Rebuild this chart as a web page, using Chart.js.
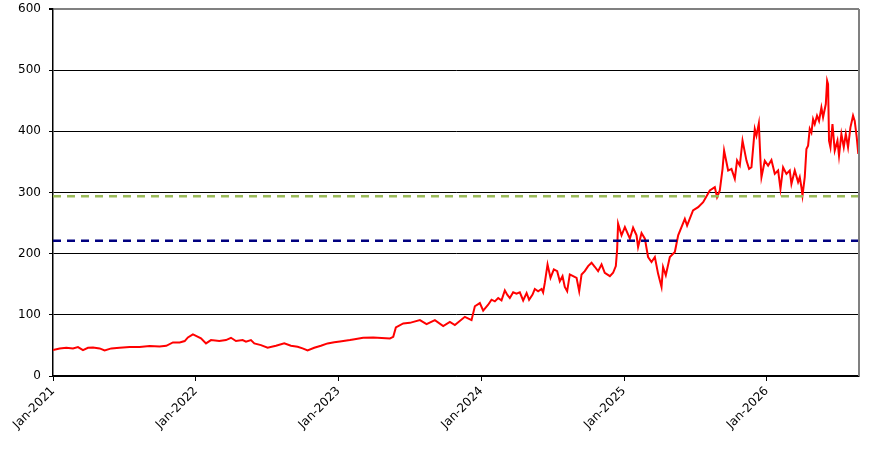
<!DOCTYPE html>
<html>
<head>
<meta charset="utf-8">
<title>Price chart</title>
<script src="https://cdn.jsdelivr.net/npm/chart.js@4.4.1/dist/chart.umd.min.js"></script>
<style>
    html, body { margin: 0; padding: 0; background: #ffffff; }
    #wrap { width: 883px; height: 449px; position: relative; }
</style>
</head>
<body>
<div id="wrap"><canvas id="priceChart"></canvas></div>
<script>
// months counted from Jan-2021 (0 = Jan-2021, 12 = Jan-2022, ...)
const months = [
    0, 0.56, 1.12, 1.68, 2.1, 2.52, 2.94, 3.36, 3.92, 4.34, 4.9, 5.6, 6.44, 7.28, 8.12, 8.96,
    9.52, 10.08, 10.65, 11.07, 11.34, 11.76,
    12.02, 12.44, 12.86, 13.28, 13.98, 14.54, 14.96, 15.38, 15.94, 16.22, 16.64, 16.92, 17.48,
    18.04, 18.74, 19.44, 20.0, 20.56, 20.98, 21.4, 21.96, 22.52, 23.08, 23.64, 24.12,
    24.96, 25.23, 26.07, 26.92, 28.32, 28.6, 28.82, 29.44, 30.0, 30.84, 31.4, 32.1, 32.8,
    33.36, 33.78, 34.62, 35.18, 35.46,
    35.88, 36.16, 36.58, 36.86, 37.14, 37.42, 37.7, 37.98, 38.18, 38.4,
    38.68, 38.96, 39.24, 39.52, 39.81, 40.02, 40.31, 40.5, 40.78, 41.07,
    41.2, 41.34, 41.57, 41.82, 42.1, 42.38, 42.6, 42.83, 43.02, 43.22,
    43.44, 43.72, 44.01, 44.23, 44.43, 44.7, 44.98, 45.27, 45.54, 45.82,
    46.11, 46.38, 46.81, 47.08, 47.31, 47.42,
    47.5,
    47.79, 48.07, 48.49, 48.76, 49.05, 49.18, 49.47, 49.75, 50.02, 50.31, 50.59, 50.86, 51.15,
    51.28, 51.51, 51.85, 52.27, 52.55, 53.11, 53.3, 53.8, 54.23, 54.65, 55.21, 55.63, 55.82,
    56.05, 56.28, 56.41, 56.75, 57.03, 57.31, 57.5, 57.73, 57.96, 58.29, 58.51, 58.71, 58.99,
    59.13, 59.33, 59.47, 59.55, 59.83, 60.11, 60.39, 60.67, 60.95, 61.15, 61.37, 61.65, 61.93,
    62.07, 62.35, 62.63, 62.77, 62.91, 63.0, 63.19, 63.33, 63.47, 63.61, 63.75, 63.89, 64.03,
    64.22, 64.39, 64.59, 64.73, 64.96, 65.07, 65.15, 65.23, 65.35, 65.52, 65.71, 65.94, 66.07,
    66.27, 66.47, 66.64, 66.83, 67.03, 67.25, 67.39, 67.56, 67.69
];

const prices = [
    42.4, 45.1, 46.2, 45.1, 47.3, 42.4, 46.2, 46.7, 45.1, 41.8, 45.1, 46.2, 47.3, 47.3, 48.9, 48.4,
    49.4, 54.9, 54.9, 57.1, 63.1, 68,
    65.7, 61.5, 53.3, 58.7, 57.1, 58.7, 62.5, 57.1, 58.7, 56, 58.7, 53.3, 50.5,
    46.2, 49.4, 53.3, 49.4, 47.8, 45.1, 41.8, 46.2, 49.4, 53.3, 55, 56.5,
    58.7, 59.8, 62.5, 63, 61.5, 64, 79.4, 85.9, 86.9, 91.3, 84.8, 91.3, 81.5,
    88.5, 83.2, 96.7, 91.3, 114,
    119.2, 107, 116.5, 124.7, 122, 127.5, 123.6, 140, 133, 127.5,
    136.8, 134.6, 136.8, 123.6, 135.7, 124.7, 133, 142.3, 138.5, 142.3,
    136.8, 152.2, 182.4, 160.4, 174.2, 171.4, 155, 163.2, 145.6, 138.5,
    166, 163.2, 160.4, 138.5, 166, 171.4, 179.7, 185.2, 178.6, 171.4,
    182.4, 168.7, 163.2, 168.7, 179.7, 207,
    249,
    230, 243.4, 224.5, 242.4, 230, 210.8, 233.7, 224.5, 194.5, 186.4, 194.5, 167.4, 145.6,
    178.2, 164.7, 194.5, 202.7, 230, 257, 246, 270.7, 276, 284.2, 303.3, 308.7, 292.4,
    303.3, 338.7, 368.5, 335.9, 338.7, 322.4, 352.2, 344, 384.8, 352.2, 338.7, 341.3, 403.9,
    393, 413, 352, 325, 352, 344, 353, 330.5, 336, 306, 341, 330.5, 336,
    314, 336, 317, 325, 308.6, 295, 325, 371, 376.6, 404, 398, 420, 412,
    425.6, 417, 439, 423, 444.6, 482.6, 477, 384.8, 374, 412, 368.5, 384.8, 360,
    395.7, 374, 395.7, 374, 406.5, 425.6, 417, 390, 363
];

// horizontal reference levels
const upperLevel = 294;
const lowerLevel = 221;

const xMax = 67.75;
const yTicks = [0, 100, 200, 300, 400, 500, 600];

Chart.defaults.font.family = "'DejaVu Sans', sans-serif";
Chart.defaults.font.size = 12;
Chart.defaults.color = '#000000';

// thin grey frame on the right side of the plot
const frameRight = {
    id: 'frameRight',
    afterDatasetsDraw(chart) {
        const a = chart.chartArea;
        const c = chart.ctx;
        c.save();
        c.strokeStyle = '#808080';
        c.lineWidth = 2;
        c.beginPath();
        c.moveTo(a.right, a.top);
        c.lineTo(a.right, a.bottom);
        c.stroke();
        c.restore();
    }
};

const ctx = document.getElementById('priceChart').getContext('2d');
new Chart(ctx, {
    type: 'line',
    data: {
        datasets: [
            {
                label: 'Price',
                data: months.map((m, i) => ({ x: m, y: prices[i] })),
                borderColor: '#FF0000',
                borderWidth: 2,
                pointRadius: 0,
                tension: 0,
                fill: false,
                order: 2
            },
            {
                label: 'Upper',
                data: [{ x: 0, y: upperLevel }, { x: xMax, y: upperLevel }],
                borderColor: '#9BBB59',
                borderWidth: 2.5,
                borderDash: [8, 6],
                pointRadius: 0,
                fill: false,
                order: 1
            },
            {
                label: 'Lower',
                data: [{ x: 0, y: lowerLevel }, { x: xMax, y: lowerLevel }],
                borderColor: '#000080',
                borderWidth: 2.5,
                borderDash: [8, 6],
                pointRadius: 0,
                fill: false,
                order: 1
            }
        ]
    },
    options: {
        responsive: true,
        maintainAspectRatio: false,
        animation: false,
        layout: { padding: { top: 9, right: 24, left: 0, bottom: 0 } },
        plugins: {
            legend: { display: false },
            tooltip: { enabled: false }
        },
        scales: {
            x: {
                type: 'linear',
                min: 0,
                max: xMax,
                afterBuildTicks: function(axis) {
                    axis.ticks = axis.ticks.filter(t => t.value % 12 === 0);
                },
                afterFit: function(axis) { axis.height = 73; },
                border: { color: '#000000', width: 1.5 },
                grid: {
                    drawOnChartArea: false,
                    drawTicks: true,
                    tickLength: 5,
                    tickColor: '#000000'
                },
                ticks: {
                    stepSize: 12,
                    autoSkip: false,
                    maxRotation: 45,
                    minRotation: 45,
                    padding: 3,
                    callback: function(value) {
                        return 'Jan-' + (2021 + value / 12);
                    }
                }
            },
            y: {
                min: 0,
                max: 600,
                afterBuildTicks: function(axis) {
                    axis.ticks = yTicks.map(v => ({ value: v }));
                },
                afterFit: function(axis) {
                    axis.width = 53;
                    axis.paddingTop = 0;
                    axis.paddingBottom = 0;
                },
                border: { color: '#000000', width: 1.5 },
                grid: {
                    color: function(c) { return c.tick && c.tick.value === 600 ? '#808080' : '#000000'; },
                    lineWidth: function(c) { return c.tick && c.tick.value === 600 ? 2 : 1; },
                    tickLength: 4,
                    tickColor: '#000000'
                },
                ticks: {
                    padding: 8,
                    callback: function(value) { return value; }
                }
            }
        }
    },
    plugins: [frameRight]
});
</script>
</body>
</html>
